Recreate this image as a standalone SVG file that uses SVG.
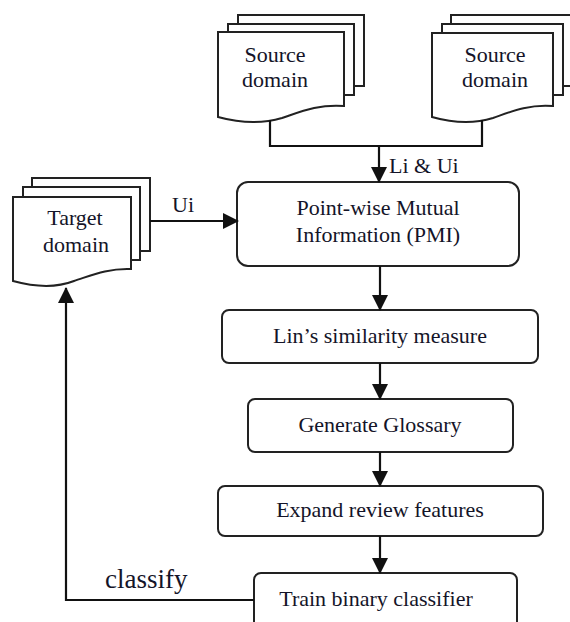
<svg xmlns="http://www.w3.org/2000/svg" width="570" height="622" viewBox="0 0 570 622">
  <style>
    .shape { fill: #ffffff; stroke: #222222; stroke-width: 2; stroke-linejoin: miter; }
    .box { fill: #ffffff; stroke: #222222; stroke-width: 2; }
    .link { fill: none; stroke: #111111; stroke-width: 2.2; }
    .lbl { font-family: "Liberation Serif", "Times New Roman", serif; font-size: 22px; fill: #141428; text-anchor: middle; }
    .edge-lbl { font-family: "Liberation Serif", "Times New Roman", serif; font-size: 22px; fill: #141428; }
  </style>
  <defs>
    <marker id="arrow" viewBox="0 0 16 16" refX="15" refY="8" markerWidth="16" markerHeight="16" markerUnits="userSpaceOnUse" orient="auto">
      <path d="M0,0 L16,8 L0,16 z" fill="#111111"/>
    </marker>
  </defs>

  <rect width="570" height="622" fill="#ffffff"/>

  <!-- Stacked document: left source domain -->
  <g id="source-domain-1">
    <rect class="shape" x="238" y="15" width="126" height="71"/>
    <rect class="shape" x="228" y="24" width="126" height="71"/>
    <path class="shape" d="M218,32 H344 V106 C318,104 300,112 282,118 C262,124 240,123 218,117 Z"/>
    <text class="lbl" x="275" y="62">Source</text>
    <text class="lbl" x="275" y="87">domain</text>
  </g>

  <!-- Stacked document: right source domain -->
  <g id="source-domain-2">
    <rect class="shape" x="451" y="15" width="122" height="71"/>
    <rect class="shape" x="442" y="24" width="121" height="71"/>
    <path class="shape" d="M432,33 H553 V106 C528,104 510,112 493,118 C474,124 453,123 432,117 Z"/>
    <text class="lbl" x="495" y="62">Source</text>
    <text class="lbl" x="495" y="87">domain</text>
  </g>

  <!-- Stacked document: target domain -->
  <g id="target-domain">
    <rect class="shape" x="32" y="178" width="118" height="73"/>
    <rect class="shape" x="23" y="187" width="117" height="73"/>
    <path class="shape" d="M13,197 H131 V269 C107,268 90,276 74,281 C56,288 35,287 13,281 Z"/>
    <text class="lbl" x="75" y="225">Target</text>
    <text class="lbl" x="76" y="252">domain</text>
  </g>

  <!-- Process steps -->
  <g id="pmi">
    <rect class="box" x="237" y="182" width="282" height="84" rx="11" ry="11"/>
    <text class="lbl" x="378" y="215">Point-wise Mutual</text>
    <text class="lbl" x="378" y="242">Information (PMI)</text>
  </g>

  <g id="lin-similarity">
    <rect class="box" x="222" y="310" width="316" height="53" rx="7" ry="7"/>
    <text class="lbl" x="380" y="343">Lin’s similarity measure</text>
  </g>

  <g id="generate-glossary">
    <rect class="box" x="248" y="399" width="265" height="53" rx="7" ry="7"/>
    <text class="lbl" x="380" y="432">Generate Glossary</text>
  </g>

  <g id="expand-features">
    <rect class="box" x="218" y="486" width="325" height="50" rx="7" ry="7"/>
    <text class="lbl" x="380" y="517">Expand review features</text>
  </g>

  <g id="train-classifier">
    <rect class="box" x="254" y="573" width="263" height="70" rx="7" ry="7"/>
    <text class="lbl" x="376" y="606">Train binary classifier</text>
  </g>

  <!-- Connectors -->
  <g id="connectors">
    <path class="link" d="M270,120 V146 H482 V120"/>
    <path class="link" d="M379,146 V182" marker-end="url(#arrow)"/>
    <path class="link" d="M150,221 H238" marker-end="url(#arrow)"/>
    <path class="link" d="M380,266 V310" marker-end="url(#arrow)"/>
    <path class="link" d="M380,363 V399" marker-end="url(#arrow)"/>
    <path class="link" d="M380,452 V486" marker-end="url(#arrow)"/>
    <path class="link" d="M380,536 V573" marker-end="url(#arrow)"/>
    <path class="link" d="M254,600 H66 V288" marker-end="url(#arrow)"/>
    <text class="edge-lbl" x="389" y="173">Li &amp; Ui</text>
    <text class="edge-lbl" x="172" y="212">Ui</text>
    <text class="edge-lbl" x="105" y="588" style="font-size:27px">classify</text>
  </g>
</svg>
